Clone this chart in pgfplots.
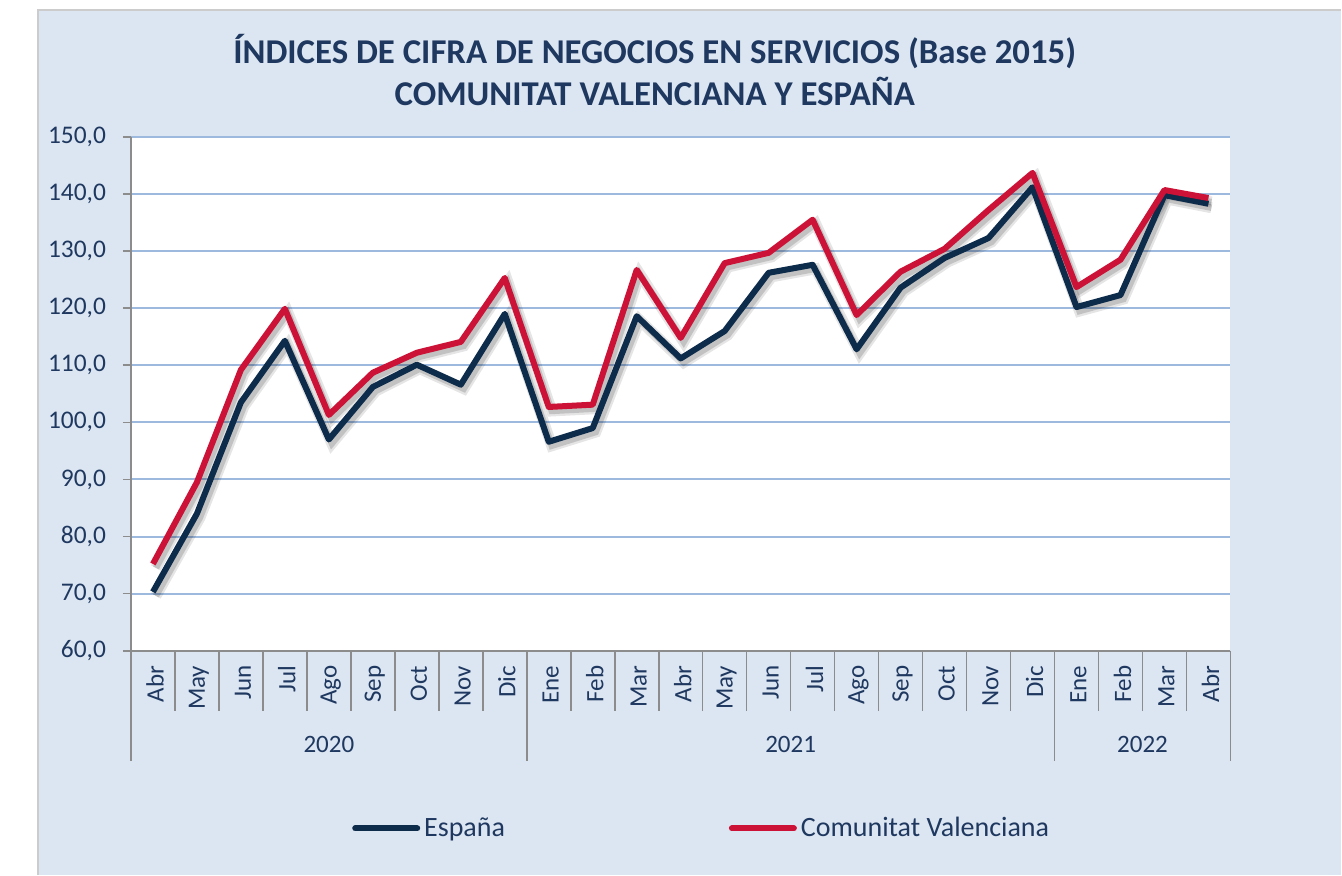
\documentclass[border=0pt]{standalone}
\usepackage{fontspec}
\setmainfont{Carlito}
\usepackage{pgfplots}
\usepackage{pgfplotstable}
\pgfplotsset{compat=1.18}
\definecolor{panel}{HTML}{DCE6F2}
\definecolor{txt}{HTML}{1F3860}
\definecolor{esp}{HTML}{0D2B4A}
\definecolor{cv}{HTML}{CC1236}
\definecolor{grid}{HTML}{9DB9DE}
\definecolor{axgray}{HTML}{8C8C8C}
\pgfplotstableread{
idx esp cv
0 70.3 75.2
1 84.0 89.5
2 103.5 109.2
3 114.3 119.9
4 97.0 101.3
5 106.2 108.7
6 110.1 112.2
7 106.6 114.1
8 119.0 125.3
9 96.6 102.7
10 99.0 103.1
11 118.6 126.7
12 111.2 114.8
13 116.0 127.9
14 126.2 129.7
15 127.6 135.5
16 112.8 118.8
17 123.6 126.4
18 128.8 130.4
19 132.3 137.2
20 141.2 143.7
21 120.2 123.7
22 122.3 128.5
23 139.8 140.7
24 138.3 139.3
}\datatable
\begin{document}
\begin{tikzpicture}
\fill[white] (0,0) rectangle (671bp,437.5bp);
\fill[panel] (19bp,0) rectangle (671bp,432.5bp);
\draw[gray!40, line width=0.6bp] (19bp,0) -- (19bp,432.5bp) -- (671bp,432.5bp);
\node[font=\bfseries\fontsize{17.4bp}{21bp}\selectfont, text=txt, align=center] at (327.5bp,402.5bp)
  {ÍNDICES DE CIFRA DE NEGOCIOS EN SERVICIOS (Base 2015)\\COMUNITAT VALENCIANA Y ESPAÑA};
\begin{axis}[
  at={(65.5bp,112bp)}, anchor=south west,
  scale only axis, width=550bp, height=257bp,
  xmin=-0.5, xmax=24.5, ymin=60, ymax=150,
  axis x line*=bottom, axis y line*=left,
  axis line style={draw=axgray, line width=0.8bp, -},
  axis background/.style={fill=white},
  clip=false,
  ytick={60,70,...,150},
  ymajorgrids, grid style={draw=grid, line width=1bp},
  tick align=outside,
  ytick style={draw=axgray, line width=0.8bp},
  major tick length=4bp,
  yticklabel style={font=\fontsize{12.7bp}{14bp}\selectfont, text=txt, xshift=-5bp, /pgf/number format/.cd, fixed, fixed zerofill, precision=1, use comma, 1000 sep={}, assume math mode=true},
  xtick={0,...,24},
  xticklabels={Abr,May,Jun,Jul,Ago,Sep,Oct,Nov,Dic,Ene,Feb,Mar,Abr,May,Jun,Jul,Ago,Sep,Oct,Nov,Dic,Ene,Feb,Mar,Abr},
  xtick style={draw=none},
  xticklabel style={rotate=90, anchor=east, font=\fontsize{12.5bp}{14bp}\selectfont, text=txt, yshift=-1bp},
  minor xtick={-0.5,0.5,...,24.5},
  minor x tick style={draw=axgray, line width=0.8bp},
  minor tick length=30bp,
  legend columns=2,
  legend style={at={(rel axis cs:0.52,-0.346)}, anchor=center, draw=none, fill=none,
    font=\fontsize{14bp}{16bp}\selectfont, text=txt, /tikz/column 2/.style={column sep=110bp}},
  legend image code/.code={\draw[#1, line cap=round] (0bp,0bp) -- (31bp,0bp);},
]
\addplot[forget plot, black, opacity=0.10, line width=5.5bp, xshift=1.5bp, yshift=-2bp] table[x=idx,y=esp]{\datatable};
\addplot[forget plot, black, opacity=0.10, line width=5.5bp, xshift=1.5bp, yshift=-2bp] table[x=idx,y=cv]{\datatable};
\addplot[forget plot, black, opacity=0.15, line width=3.2bp, xshift=1.5bp, yshift=-2bp] table[x=idx,y=esp]{\datatable};
\addplot[forget plot, black, opacity=0.15, line width=3.2bp, xshift=1.5bp, yshift=-2bp] table[x=idx,y=cv]{\datatable};
\addplot[esp, line width=3bp, line join=round] table[x=idx,y=esp]{\datatable};
\addlegendentry{España}
\addplot[cv, line width=3bp, line join=round] table[x=idx,y=cv]{\datatable};
\addlegendentry{Comunitat Valenciana}
\draw[axgray, line width=0.8bp] (axis cs:-0.5,60) -- ([yshift=-55bp]axis cs:-0.5,60);
\draw[axgray, line width=0.8bp] (axis cs:8.5,60) -- ([yshift=-55bp]axis cs:8.5,60);
\draw[axgray, line width=0.8bp] (axis cs:20.5,60) -- ([yshift=-55bp]axis cs:20.5,60);
\draw[axgray, line width=0.8bp] (axis cs:24.5,60) -- ([yshift=-55bp]axis cs:24.5,60);
\node[font=\fontsize{12.5bp}{14bp}\selectfont, text=txt] at ([yshift=-47bp]axis cs:4,60) {2020};
\node[font=\fontsize{12.5bp}{14bp}\selectfont, text=txt] at ([yshift=-47bp]axis cs:14.5,60) {2021};
\node[font=\fontsize{12.5bp}{14bp}\selectfont, text=txt] at ([yshift=-47bp]axis cs:22.5,60) {2022};
\end{axis}
\end{tikzpicture}
\end{document}
